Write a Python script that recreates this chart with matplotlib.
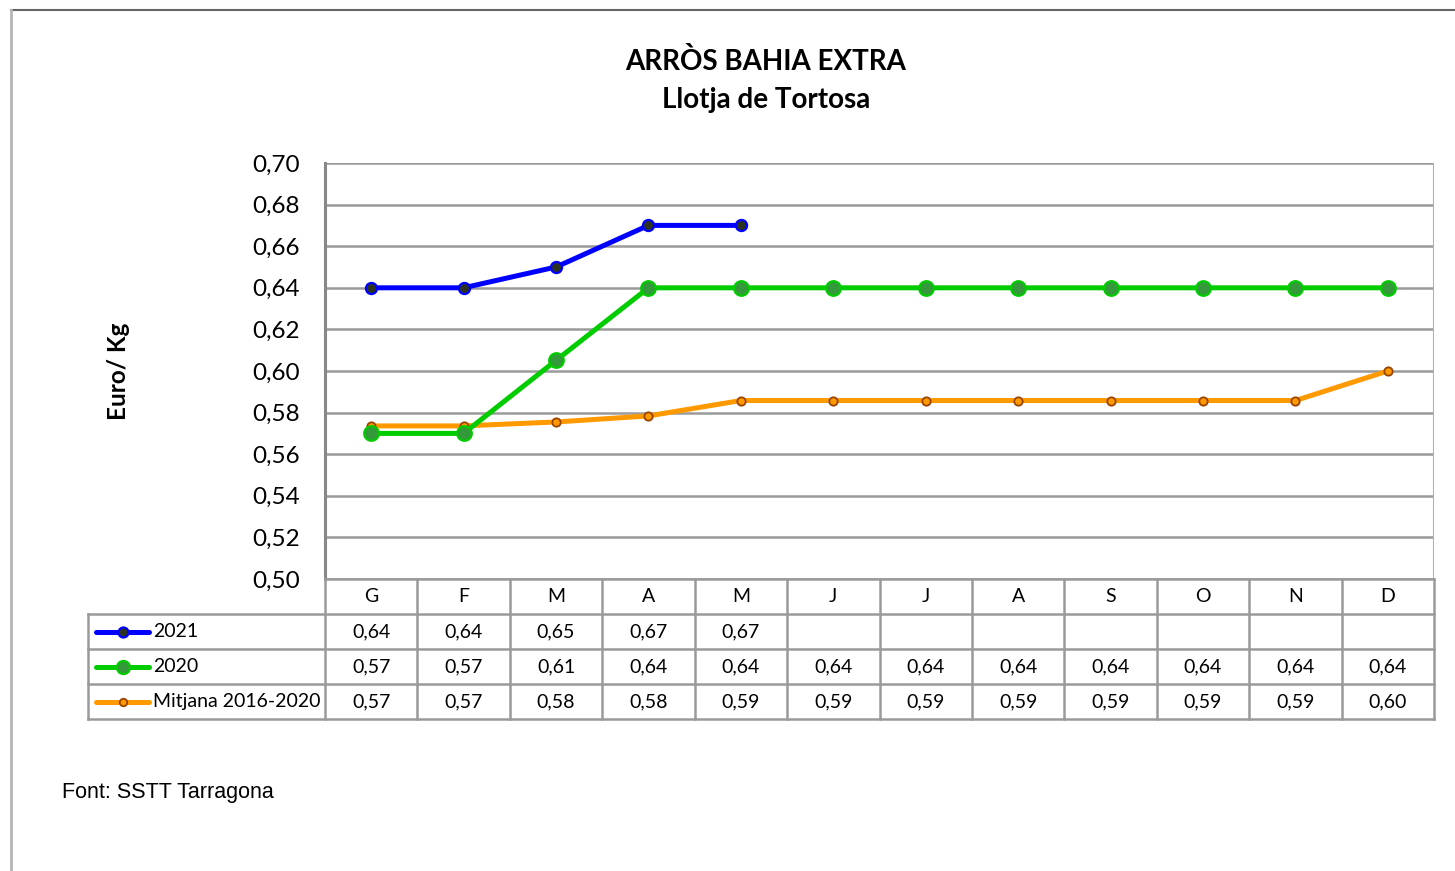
import matplotlib
matplotlib.use("Agg")
import matplotlib.pyplot as plt
from matplotlib.lines import Line2D

# data
months = ["G", "F", "M", "A", "M", "J", "J", "A", "S", "O", "N", "D"]
vals_2021 = [0.64, 0.64, 0.65, 0.67, 0.67]
vals_2020 = [0.57, 0.57, 0.6051, 0.64, 0.64, 0.64, 0.64, 0.64, 0.64, 0.64, 0.64, 0.64]
vals_mitjana = [0.5736, 0.5736, 0.5755, 0.5784, 0.5858, 0.5858, 0.5858, 0.5858,
                0.5858, 0.5858, 0.5858, 0.6000]
series_names = ["2021", "2020", "Mitjana 2016-2020"]

W, H = 1455, 871
fig = plt.figure(figsize=(W / 100, H / 100), dpi=100)
fig.patch.set_facecolor("white")

grid_col = "#9a9a9a"
main_font = "Lato"

# plot area in pixels
pl, pr, pt, pb = 325, 1434, 163, 579
ax = fig.add_axes([pl / W, 1 - pb / H, (pr - pl) / W, (pb - pt) / H])

styles = [
    dict(color="#0000ff", lw=3.6, marker="o", ms=8, mfc="#2b3320", mec="#0000ff", mew=1.6),
    dict(color="#00cc00", lw=3.6, marker="o", ms=10.5, mfc="#33993a", mec="#00cc00", mew=1.6),
    dict(color="#ff9900", lw=3.6, marker="o", ms=6, mfc="#ff9900", mec="#994400", mew=1.3),
]
series = [vals_2021, vals_2020, vals_mitjana]

# draw order: mitjana first, then 2020, then 2021 on top
for idx in [2, 1, 0]:
    vals = series[idx]
    ax.plot(range(len(vals)), vals, zorder=3 + (2 - idx), solid_capstyle="butt", **styles[idx])

ax.set_xlim(-0.5, 11.5)
ax.set_ylim(0.50, 0.70)
yt = [0.50 + 0.02 * i for i in range(11)]
ax.set_yticks(yt)
ax.set_yticklabels([f"{v:.2f}".replace(".", ",") for v in yt], fontsize=17.5, fontfamily=main_font)
ax.tick_params(axis="y", length=0, pad=18)
ax.set_xticks([])
ax.grid(axis="y", color=grid_col, lw=1.8)
ax.set_axisbelow(True)
for s in ["top", "right", "bottom"]:
    ax.spines[s].set_visible(False)
ax.spines["left"].set_color("#888888")
ax.spines["left"].set_linewidth(2.2)
ax.axvline(11.5, color="#b0b0b0", lw=2.2, zorder=1)

# data table below the plot
tl = 88
col_w = (pr - pl) / 12
x_left = -0.5 - (pl - tl) / col_w
tax = fig.add_axes([tl / W, 1 - 719 / H, (pr - tl) / W, (719 - pb) / H])
tax.set_xlim(x_left, 11.5)
tax.set_ylim(4, 0)
tax.axis("off")

lc = grid_col
tlw = 1.8
# horizontal lines
tax.plot([-0.5, 11.5], [0, 0], color=lc, lw=tlw, clip_on=False)
for r in [1, 2, 3, 4]:
    tax.plot([x_left, 11.5], [r, r], color=lc, lw=tlw, clip_on=False)
# vertical lines
tax.plot([x_left, x_left], [1, 4], color=lc, lw=tlw, clip_on=False)
for c in range(13):
    tax.plot([c - 0.5, c - 0.5], [0, 4], color=lc, lw=tlw, clip_on=False)

tfs = 14
for i, m in enumerate(months):
    tax.text(i, 0.5, m, ha="center", va="center", fontsize=tfs, fontfamily=main_font)

for r, vals in enumerate(series):
    for i, v in enumerate(vals):
        tax.text(i, r + 1.5, f"{v:.2f}".replace(".", ","), ha="center", va="center",
                 fontsize=tfs, fontfamily=main_font)
    # legend key
    k0 = x_left + 8 / col_w
    k1 = x_left + 61 / col_w
    st = styles[r]
    tax.plot([k0, k1], [r + 1.5, r + 1.5], color=st["color"], lw=st["lw"],
             solid_capstyle="round", clip_on=False)
    tax.plot([(k0 + k1) / 2], [r + 1.5], marker="o", ms=st["ms"] * 0.9, mfc=st["mfc"],
             mec=st["mec"], mew=st["mew"], ls="none", clip_on=False)
    tax.text(x_left + 65 / col_w, r + 1.5, series_names[r], ha="left", va="center",
             fontsize=tfs, fontfamily=main_font)

# titles
fig.text(766 / W, 1 - 61 / H, "ARRÒS BAHIA EXTRA", ha="center", va="center",
         fontsize=20, fontweight="bold", fontfamily=main_font)
fig.text(766 / W, 1 - 100 / H, "Llotja de Tortosa", ha="center", va="center",
         fontsize=20, fontweight="bold", fontfamily=main_font)
fig.text(118 / W, 1 - 371 / H, "Euro/ Kg", ha="center", va="center", rotation=90,
         fontsize=17.5, fontweight="bold", fontfamily=main_font)
fig.text(62 / W, 1 - 792 / H, "Font: SSTT Tarragona", ha="left", va="center",
         fontsize=15.5, fontfamily="Liberation Sans")

# outer frame lines
fig.add_artist(Line2D([11 / W, 1], [1 - 10 / H, 1 - 10 / H], color="#666666", lw=1.5))
fig.add_artist(Line2D([11 / W, 11 / W], [0, 1 - 10 / H], color="#b5b5b5", lw=2))

fig.savefig("out.png", dpi=100, facecolor="white")
